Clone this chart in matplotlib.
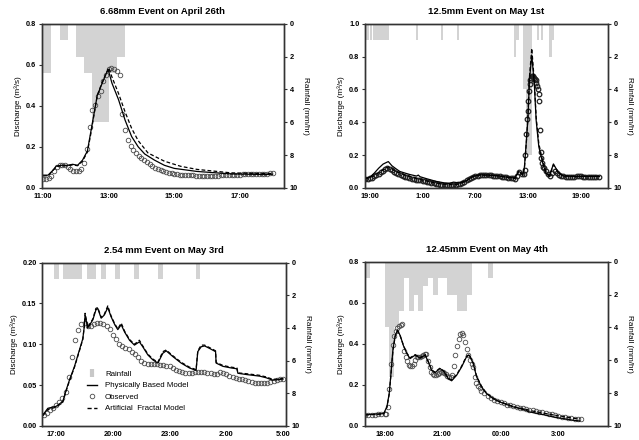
import numpy as np
import matplotlib
matplotlib.use("Agg")
import matplotlib.pyplot as plt
from matplotlib.lines import Line2D

plt.rcParams['font.family'] = ['Liberation Sans', 'DejaVu Sans']
plt.rcParams['font.weight'] = 'bold'

# ---- panel 1 : 6.68mm event, April 26th (time in hours) ----
rain1_t = [11.0, 11.5, 12.0, 12.25, 12.5, 12.75, 13.0, 13.25]
rain1_mm = [3, 1, 2, 3, 6, 6, 3, 2]
obs1 = [0.043, 0.045, 0.050, 0.060, 0.080, 0.100, 0.110, 0.112, 0.110, 0.100, 0.090, 0.083,
        0.080, 0.082, 0.090, 0.120, 0.190, 0.295, 0.380, 0.405, 0.450, 0.470, 0.520, 0.550,
        0.580, 0.585, 0.580, 0.570, 0.550, 0.360, 0.280, 0.235, 0.205, 0.185, 0.170, 0.155,
        0.145, 0.135, 0.125, 0.115, 0.105, 0.098, 0.092, 0.087, 0.082, 0.078, 0.074, 0.071,
        0.069, 0.067, 0.065, 0.064, 0.063, 0.062, 0.061, 0.061, 0.060, 0.060, 0.060, 0.060,
        0.060, 0.060, 0.060, 0.060, 0.060, 0.061, 0.061, 0.062, 0.062, 0.063, 0.064, 0.065,
        0.065, 0.066, 0.066, 0.067, 0.067, 0.068, 0.068, 0.069, 0.069, 0.070, 0.070, 0.071,
        0.071]
t_obs1 = 11.0 + np.arange(len(obs1)) / 12
t_pb1 = [11.0, 11.15, 11.3, 11.4, 11.55, 11.75, 11.9, 12.05, 12.2, 12.35, 12.45, 12.55, 12.65,
         12.8, 12.98, 13.1, 13.3, 13.5, 13.7, 13.9, 14.1, 14.4, 14.7, 15.0, 15.7, 16.75, 17.8, 18.0]
pb1 = [0.062, 0.062, 0.086, 0.106, 0.110, 0.110, 0.115, 0.110, 0.135, 0.180, 0.270, 0.360, 0.450,
       0.510, 0.578, 0.510, 0.430, 0.330, 0.250, 0.200, 0.165, 0.135, 0.110, 0.095, 0.080, 0.068, 0.065, 0.067]
t_af1 = [11.0, 11.15, 11.3, 11.4, 11.55, 11.75, 11.9, 12.05, 12.2, 12.35, 12.45, 12.55, 12.65,
         12.8, 13.0, 13.1, 13.3, 13.5, 13.7, 13.9, 14.2, 14.7, 15.2, 15.7, 16.75, 17.8, 18.0]
af1 = [0.058, 0.060, 0.085, 0.104, 0.108, 0.108, 0.112, 0.108, 0.130, 0.175, 0.260, 0.355, 0.450,
       0.515, 0.585, 0.540, 0.460, 0.370, 0.290, 0.230, 0.170, 0.130, 0.105, 0.090, 0.073, 0.070, 0.070]

# ---- panel 2 : 12.5mm event, May 1st (hours from midnight of the day before) ----
rain2_t = [18.6, 19.0, 19.4, 19.65, 19.9, 20.15, 20.4, 20.65, 20.9, 24.2, 27.1, 28.9,
           35.4, 35.65, 36.45, 36.7, 36.95, 37.2, 38.0, 38.4, 39.4, 39.65]
rain2_mm = [1, 1, 1, 1, 1, 1, 1, 1, 1, 1, 1, 1, 2, 1, 4, 8, 8, 8, 1, 1, 2, 1]
obs2_a = [0.053, 0.055, 0.058, 0.063, 0.070, 0.078, 0.086, 0.095, 0.105, 0.115, 0.122, 0.118,
          0.108, 0.098, 0.090, 0.083, 0.077, 0.072, 0.068, 0.064, 0.060, 0.057, 0.054, 0.051,
          0.048, 0.045, 0.042, 0.039, 0.036, 0.033, 0.030, 0.027, 0.024, 0.021, 0.019, 0.017,
          0.016, 0.015, 0.015, 0.016, 0.018, 0.020, 0.023, 0.026, 0.030, 0.036, 0.045, 0.055,
          0.063, 0.068, 0.072, 0.075, 0.077, 0.078, 0.078, 0.078, 0.077, 0.076, 0.075, 0.074,
          0.072, 0.070, 0.068, 0.066, 0.064, 0.062, 0.060, 0.058, 0.057, 0.075, 0.095, 0.085]
obs2_b = [0.085, 0.110, 0.200, 0.330, 0.420, 0.470, 0.530, 0.590, 0.630, 0.660, 0.670, 0.680,
          0.680, 0.675, 0.670, 0.665, 0.655, 0.640, 0.620, 0.600, 0.570, 0.530, 0.350, 0.220,
          0.180, 0.150, 0.130, 0.120]
obs2_c = [0.105, 0.085, 0.070, 0.090, 0.100, 0.090, 0.078, 0.072, 0.070, 0.068, 0.068, 0.067,
          0.068, 0.069, 0.070, 0.070, 0.070, 0.069, 0.068, 0.068, 0.068, 0.069, 0.069, 0.068, 0.068]
t_obs2 = np.concatenate([18.5 + np.arange(len(obs2_a)) / 4,
                         36.5 + np.arange(len(obs2_b)) / 12,
                         39.0 + np.arange(len(obs2_c)) / 4])
obs2 = obs2_a + obs2_b + obs2_c
t_pb2 = [18.45, 19.0, 19.5, 20.0, 20.5, 21.0, 21.1, 21.5, 22.0, 22.4, 23.0, 23.5, 24.3, 24.5, 24.7,
         25.5, 26.5, 27.5, 28.0, 28.5, 29.2, 30.0, 30.7, 31.5, 32.5, 33.5, 34.5, 35.5, 35.9, 36.1,
         36.4, 36.57, 36.8, 36.95, 37.14, 37.4, 37.7, 37.9, 38.2, 38.65, 39.0, 39.4, 39.86, 40.35,
         40.9, 42.0, 43.5, 45.1]
pb2 = [0.055, 0.065, 0.090, 0.120, 0.145, 0.158, 0.160, 0.135, 0.115, 0.100, 0.090, 0.082, 0.072,
       0.078, 0.068, 0.055, 0.040, 0.030, 0.027, 0.035, 0.030, 0.045, 0.070, 0.080, 0.078, 0.074,
       0.066, 0.060, 0.100, 0.095, 0.080, 0.130, 0.300, 0.410, 0.660, 0.810, 0.620, 0.410, 0.250,
       0.150, 0.090, 0.070, 0.146, 0.100, 0.073, 0.070, 0.070, 0.070]
t_af2 = [18.45, 19.5, 20.5, 21.1, 22.0, 23.0, 24.0, 25.0, 26.0, 27.0, 28.0, 29.0, 30.0, 30.7, 31.5,
         32.5, 33.5, 34.5, 35.5, 35.9, 36.1, 36.4, 36.57, 36.8, 36.95, 37.14, 37.4, 37.7, 37.9,
         38.2, 38.65, 39.0, 39.4, 39.86, 40.35, 40.9, 42.0, 43.5, 45.1]
af2 = [0.055, 0.075, 0.110, 0.128, 0.100, 0.078, 0.062, 0.048, 0.035, 0.025, 0.020, 0.022, 0.042,
       0.068, 0.078, 0.077, 0.073, 0.065, 0.058, 0.098, 0.092, 0.078, 0.125, 0.290, 0.420, 0.680,
       0.850, 0.640, 0.430, 0.270, 0.160, 0.100, 0.075, 0.140, 0.098, 0.075, 0.070, 0.070, 0.070]

# ---- panel 3 : 2.54 mm event, May 3rd ----
rain3_t = [16.88, 17.38, 17.63, 17.88, 18.13, 18.63, 18.88, 19.38, 20.13, 21.13, 22.38, 24.38]
rain3_mm = [1, 1, 1, 1, 1, 1, 1, 1, 1, 1, 1, 1]
obs3 = [0.013, 0.016, 0.019, 0.022, 0.026, 0.029, 0.034, 0.041, 0.060, 0.085, 0.105, 0.118,
        0.125, 0.126, 0.122, 0.123, 0.125, 0.126, 0.126, 0.125, 0.122, 0.119, 0.112, 0.106,
        0.100, 0.098, 0.096, 0.094, 0.091, 0.088, 0.084, 0.080, 0.077, 0.076, 0.076, 0.076,
        0.076, 0.075, 0.075, 0.074, 0.073, 0.071, 0.068, 0.067, 0.066, 0.065, 0.065, 0.065,
        0.066, 0.066, 0.066, 0.066, 0.065, 0.065, 0.064, 0.064, 0.066, 0.065, 0.063, 0.061,
        0.060, 0.059, 0.058, 0.057, 0.056, 0.055, 0.054, 0.053, 0.053, 0.053, 0.053, 0.053,
        0.054, 0.055, 0.056, 0.057, 0.057]
t_obs3 = 16.333 + np.arange(len(obs3)) / 6
t_pb3 = [16.3, 16.56, 17.0, 17.35, 17.53, 17.7, 17.97, 18.23, 18.41, 18.5, 18.53, 18.67, 18.94,
         19.1, 19.2, 19.38, 19.55, 19.73, 19.9, 20.1, 20.26, 20.44, 20.62, 20.88, 21.14, 21.4,
         21.58, 21.85, 22.11, 22.38, 22.64, 22.82, 23.17, 23.61, 24.05, 24.4, 24.49, 24.67, 24.85,
         25.11, 25.43, 25.46, 25.82, 26.26, 26.56, 26.61, 27.05, 27.76, 28.11, 28.46, 29.0]
pb3 = [0.0135, 0.0216, 0.024, 0.030, 0.044, 0.056, 0.073, 0.093, 0.107, 0.124, 0.136, 0.120, 0.130,
       0.142, 0.144, 0.132, 0.136, 0.145, 0.134, 0.124, 0.118, 0.124, 0.115, 0.105, 0.099, 0.103,
       0.097, 0.087, 0.081, 0.077, 0.089, 0.092, 0.085, 0.077, 0.071, 0.068, 0.091, 0.097, 0.098,
       0.095, 0.091, 0.077, 0.073, 0.071, 0.070, 0.0645, 0.063, 0.061, 0.059, 0.056, 0.0575]
t_af3 = [16.3, 16.56, 17.0, 17.35, 17.53, 17.7, 17.97, 18.23, 18.41, 18.5, 18.53, 18.67, 18.94,
         19.1, 19.2, 19.38, 19.55, 19.73, 19.9, 20.1, 20.26, 20.44, 20.62, 20.88, 21.14, 21.4,
         21.58, 21.85, 22.11, 22.38, 22.64, 22.82, 23.17, 23.61, 24.05, 24.4, 24.49, 24.67, 24.85,
         25.11, 25.43, 25.46, 25.82, 26.26, 26.56, 26.61, 27.05, 27.76, 28.11, 28.46, 29.0]
af3 = [0.0125, 0.020, 0.023, 0.029, 0.043, 0.055, 0.072, 0.092, 0.106, 0.125, 0.138, 0.121, 0.131,
       0.144, 0.145, 0.133, 0.137, 0.147, 0.135, 0.125, 0.119, 0.126, 0.116, 0.106, 0.100, 0.105,
       0.098, 0.088, 0.082, 0.078, 0.091, 0.093, 0.086, 0.078, 0.072, 0.069, 0.092, 0.099, 0.099,
       0.096, 0.092, 0.078, 0.074, 0.072, 0.071, 0.065, 0.064, 0.062, 0.060, 0.057, 0.058]

# ---- panel 4 : 12.45mm event, May 4th ----
rain4_t = [17.0, 18.0, 18.25, 18.5, 18.75, 19.0, 19.25, 19.5, 19.75, 20.0, 20.25, 20.5, 20.75,
           21.0, 21.25, 21.5, 21.75, 22.0, 22.25, 23.35]
rain4_mm = [1, 4, 7, 4, 3, 1, 3, 2, 3, 1.5, 1, 2, 1, 1, 2, 2, 3, 3, 2, 1]
obs4_a = [0.055, 0.055, 0.055, 0.055, 0.056, 0.056]
obs4_b = [0.057, 0.060, 0.090, 0.180, 0.300, 0.395, 0.440, 0.465, 0.478, 0.488, 0.494, 0.496,
          0.365, 0.335, 0.315, 0.298, 0.292, 0.290, 0.300, 0.320, 0.335, 0.337, 0.337, 0.340,
          0.345, 0.350, 0.350, 0.315, 0.285, 0.265, 0.255, 0.248, 0.250, 0.254, 0.258, 0.262,
          0.262, 0.258, 0.252, 0.245, 0.240, 0.240, 0.250, 0.290, 0.345, 0.390, 0.425, 0.448,
          0.454, 0.445, 0.410, 0.375, 0.345, 0.320, 0.300, 0.288, 0.240, 0.210, 0.195, 0.183,
          0.172]
obs4_c = [0.160, 0.148, 0.135, 0.128, 0.121, 0.116, 0.110, 0.104, 0.100, 0.096, 0.092, 0.088,
          0.085, 0.082, 0.079, 0.076, 0.073, 0.070, 0.067, 0.064, 0.060, 0.056, 0.052, 0.048,
          0.045, 0.042, 0.040, 0.037, 0.035, 0.034, 0.033]
t_obs4 = np.concatenate([17.0 + np.arange(len(obs4_a)) / 6,
                         18.0 + np.arange(len(obs4_b)) / 12,
                         23.1667 + np.arange(len(obs4_c)) / 6])
obs4 = obs4_a + obs4_b + obs4_c
t_pb4 = [17.0, 17.95, 18.12, 18.24, 18.33, 18.43, 18.55, 18.67, 18.81, 18.98, 19.15, 19.32, 19.58,
         19.84, 20.1, 20.27, 20.44, 20.61, 20.87, 21.08, 21.3, 21.47, 21.73, 21.99, 22.24, 22.38,
         22.59, 22.76, 23.02, 23.27, 23.62, 23.96, 24.65, 25.34, 25.42, 25.68, 26.37, 26.71, 27.74, 28.09]
pb4 = [0.055, 0.060, 0.093, 0.158, 0.255, 0.370, 0.440, 0.467, 0.440, 0.390, 0.353, 0.328, 0.345,
       0.330, 0.345, 0.310, 0.270, 0.260, 0.280, 0.263, 0.230, 0.220, 0.247, 0.288, 0.337, 0.345,
       0.304, 0.240, 0.190, 0.158, 0.133, 0.117, 0.093, 0.076, 0.070, 0.065, 0.052, 0.044, 0.028, 0.024]
t_af4 = [17.0, 17.95, 18.12, 18.24, 18.33, 18.43, 18.55, 18.67, 18.81, 18.98, 19.15, 19.32, 19.58,
         19.84, 20.1, 20.27, 20.44, 20.61, 20.87, 21.08, 21.3, 21.47, 21.73, 21.99, 22.24, 22.38,
         22.59, 22.76, 23.02, 23.27, 23.62, 23.96, 24.65, 25.34, 25.68, 26.37, 27.05, 27.74, 28.09]
af4 = [0.053, 0.058, 0.090, 0.155, 0.250, 0.365, 0.438, 0.462, 0.438, 0.392, 0.356, 0.332, 0.348,
       0.333, 0.348, 0.313, 0.272, 0.262, 0.282, 0.266, 0.233, 0.224, 0.250, 0.292, 0.340, 0.348,
       0.306, 0.243, 0.193, 0.160, 0.135, 0.118, 0.095, 0.080, 0.072, 0.060, 0.048, 0.038, 0.034]

fig = plt.figure(figsize=(6.39, 4.40), dpi=100)


def draw_panel(pos, title, xlim, xticks, xlabels, ymax, ystep, yfmt,
               rain_t, rain_mm, t_obs, obs, t_pb, pb, t_af, af, mew=0.6, mec='#4a4a4a'):
    ax = fig.add_axes(pos)
    ax2 = ax.twinx()
    ax2.bar(rain_t, rain_mm, width=0.25, align='edge', color='#d3d3d3', linewidth=0)
    ax2.set_ylim(10, 0)
    ax2.set_yticks(range(0, 11, 2))
    ax.set_zorder(ax2.get_zorder() + 1)
    ax.patch.set_visible(False)

    ax.plot(t_obs, obs, 'o', mfc='none', mec=mec, ms=3.3, mew=mew)
    ax.plot(t_pb, pb, '-', color='black', lw=0.9)
    ax.plot(t_af, af, '--', color='black', lw=0.9, dashes=(3, 1.8))

    ax.set_xlim(*xlim)
    ax.set_ylim(0, ymax)
    ax.set_xticks(xticks)
    ax.set_xticklabels(xlabels)
    ax.set_yticks(np.arange(0, ymax + ystep / 2, ystep))
    ax.yaxis.set_major_formatter(plt.FormatStrFormatter(yfmt))
    ax.tick_params(axis='x', length=0, pad=4, labelsize=5.3)
    ax.tick_params(axis='y', length=2.5, width=0.8, pad=1.5, labelsize=5.3, color='#333333')
    ax2.tick_params(axis='y', length=2.5, width=0.8, pad=1.5, labelsize=5.3, color='#333333')
    for a in (ax, ax2):
        for s in a.spines.values():
            s.set_linewidth(1.0)
            s.set_color('#333333')
    ax.set_title(title, fontsize=6.8, fontweight='bold', pad=7)
    ax.set_ylabel('Discharge (m³/s)', fontsize=5.9, labelpad=3)
    ax2.set_ylabel('Rainfall (mm/hr)', fontsize=5.9, rotation=270, labelpad=8)
    return ax


draw_panel([0.065, 0.573, 0.380, 0.373], '6.68mm Event on April 26th', (10.95, 18.36),
           [11, 13, 15, 17], ['11:00', '13:00', '15:00', '17:00'], 0.8, 0.2, '%.1f',
           rain1_t, rain1_mm, t_obs1, obs1, t_pb1, pb1, t_af1, af1)
draw_panel([0.571, 0.573, 0.381, 0.373], '12.5mm Event on May 1st', (18.43, 46.1),
           [19, 25, 31, 37, 43], ['19:00', '1:00', '7:00', '13:00', '19:00'], 1.0, 0.2, '%.1f',
           rain2_t, rain2_mm, t_obs2, obs2, t_pb2, pb2, t_af2, af2, mew=0.9, mec='#222222')
ax3 = draw_panel([0.066, 0.032, 0.382, 0.371], '2.54 mm Event on May 3rd', (16.26, 29.17),
                 [17, 20, 23, 26, 29], ['17:00', '20:00', '23:00', '2:00', '5:00'], 0.2, 0.05, '%.2f',
                 rain3_t, rain3_mm, t_obs3, obs3, t_pb3, pb3, t_af3, af3)
draw_panel([0.571, 0.032, 0.381, 0.373], '12.45mm Event on May 4th', (16.98, 29.58),
           [18, 21, 24, 27], ['18:00', '21:00', '00:00', '3:00'], 0.8, 0.2, '%.1f',
           rain4_t, rain4_mm, t_obs4, obs4, t_pb4, pb4, t_af4, af4)

handles = [Line2D([], [], marker='|', color='#c8c8c8', ls='none', ms=6, mew=3),
           Line2D([], [], color='black', lw=1.0),
           Line2D([], [], marker='o', ls='none', mfc='none', mec='#4a4a4a', ms=3.3, mew=0.6),
           Line2D([], [], color='black', lw=1.0, ls='--', dashes=(3, 1.8))]
labels = ['Rainfall', 'Physically Based Model', 'Observed', 'Artificial  Fractal Model']
ax3.legend(handles, labels, loc='upper left', bbox_to_anchor=(0.17, 0.36), frameon=False,
           prop={'weight': 'normal', 'size': 5.7}, handlelength=1.3, handletextpad=1.0,
           labelspacing=0.5, borderaxespad=0)

fig.savefig('out.png', dpi=100)
